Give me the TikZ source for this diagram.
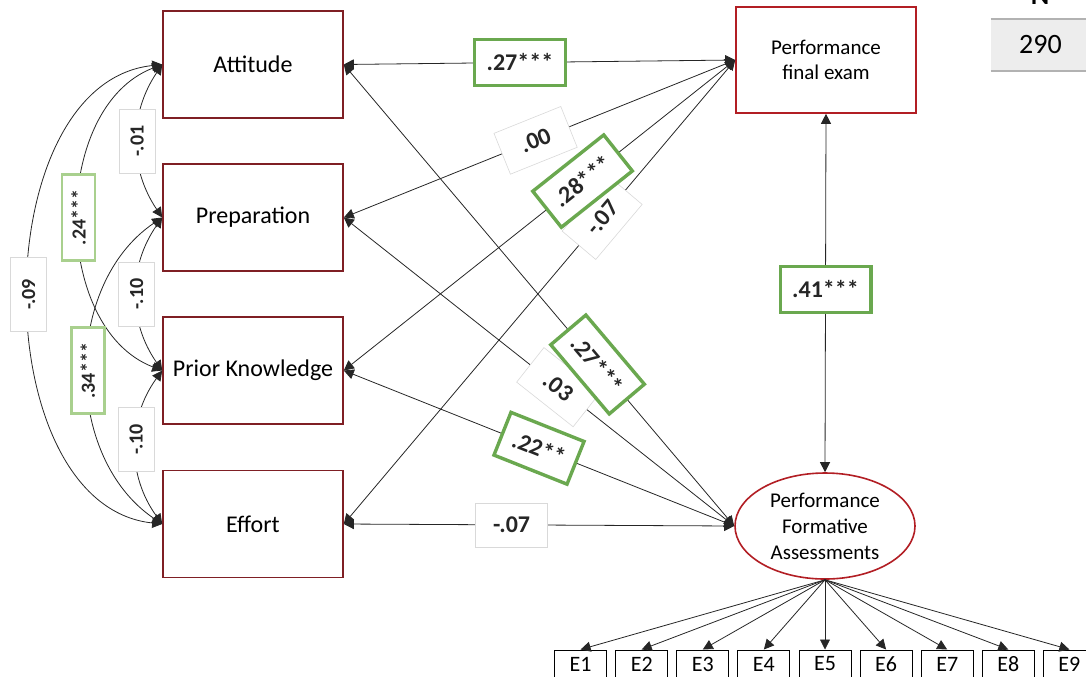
\documentclass[tikz,border=0pt]{standalone}
\usepackage{fontspec}
\setmainfont{Carlito}
\usetikzlibrary{arrows.meta,calc,shapes.geometric}
\definecolor{boxred}{RGB}{127,31,36}
\definecolor{examred}{RGB}{178,30,36}
\definecolor{siggreen}{RGB}{106,168,79}
\definecolor{lightgreen}{RGB}{169,208,142}
\definecolor{ngray}{RGB}{237,237,237}

\begin{document}
\begin{tikzpicture}[x=.5pt, y=-.5pt, >={Triangle[length=5pt,width=5pt]},
  var/.style={draw=boxred, line width=.8pt, minimum width=90pt, minimum height=53.5pt, font=\fontsize{12}{14}\selectfont},
  link/.style={<->, line width=.4pt, black!85},
  coef/.style={fill=white, draw=black!15, line width=.3pt, inner xsep=6pt, minimum width=36pt, minimum height=22pt, font=\bfseries\fontsize{12}{14}\selectfont},
  sig/.style={coef, draw=siggreen, line width=1.7pt, minimum height=23pt},
  cov/.style={coef, rotate=90, minimum width=32pt, minimum height=18pt, inner xsep=3pt, font=\bfseries\fontsize{10}{12}\selectfont},
  weaksig/.style={cov, draw=lightgreen, line width=1.3pt, minimum height=16.5pt, minimum width=43pt},
  ind/.style={draw, line width=.5pt, minimum width=26pt, minimum height=14pt, inner sep=0, font=\fontsize{11}{13}\selectfont}]
\useasboundingbox (0,0) rectangle (1086,676);

\node[var] (att) at (253,64.5) {Attitude};
\node[var] (prep) at (253,217.5) {Preparation};
\node[var] (prior) at (253,370.5) {Prior Knowledge};
\node[var] (eff) at (253,524) {Effort};

\node[draw=examred, line width=.8pt, minimum width=90pt, minimum height=53pt, align=center, font=\fontsize{10.5}{12.5}\selectfont] (exam) at (826,60) {Performance\\final exam};
\node[ellipse, draw=examred, line width=.8pt, minimum width=90pt, minimum height=53pt, inner sep=0] (form) at (825,526) {};
\node[align=center, font=\fontsize{10.5}{13}\selectfont] (formtext) at (form) {Performance\\Formative\\Assessments};

% paths to the final exam
\draw[link] (eff.east) -- node[coef, sloped, pos=.66] {-.07} (exam.west);
\draw[link] (prep.east) -- node[coef, sloped, pos=.49] {.00} (exam.west);
\draw[link] (prior.east) -- node[sig, sloped, pos=.61] {.28***} (exam.west);
\draw[link] (att.east) -- node[sig, pos=.45] {.27***} (exam.west);

% paths to the formative assessments
\draw[link] (eff.east) -- node[coef, pos=.43] {-.07} (form.west);
\draw[link] (prior.east) -- node[sig, sloped, pos=.5] {.22**} (form.west);
\draw[link] (prep.east) -- node[coef, sloped, pos=.55] {.03} (form.west);
\draw[link] (att.east) -- node[sig, sloped, pos=.65] {.27***} (form.west);

\draw[link] (exam.south) -- node[sig, pos=.49] {.41***} (form.north);

% covariances
\draw[link] (att.west) to[bend right=84] node[cov, minimum width=37pt] {-.09} (eff.west);
\draw[link] (att.west) to[bend right=69] node[weaksig] {.24***} (prior.west);
\draw[link] (prep.west) to[bend right=56] node[weaksig] {.34***} (eff.west);
\draw[link] (att.west) to[bend right=34] node[cov] {-.01} (prep.west);
\draw[link] (prep.west) to[bend right=35] node[cov] {-.10} (prior.west);
\draw[link] (prior.west) to[bend right=36] node[cov, pos=.45] {-.10} (eff.west);

% indicators
\foreach \i in {1,...,9}{
  \node[ind] (e\i) at ({825+(\i-5)*61.1},664) {E\i};
  \draw[->, line width=.4pt, black!85] (form.south) -- (e\i.north);
}

\node[fill=ngray, minimum width=49.5pt, minimum height=26pt, inner sep=0, font=\fontsize{14}{16}\selectfont] (nval) at (1040.5,45) {290};
\draw[black!30, line width=1pt] (nval.north west) -- (nval.north east) (nval.south west) -- (nval.south east);
\node[anchor=base, inner sep=0, font=\bfseries\fontsize{14}{16}\selectfont] (nhead) at (1040,4) {N};

\end{tikzpicture}
\end{document}
